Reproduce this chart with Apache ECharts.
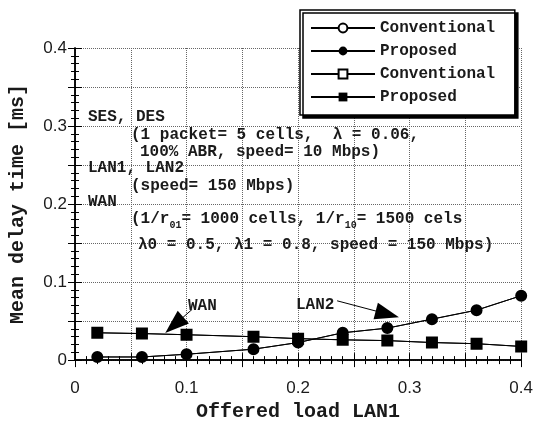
<!DOCTYPE html>
<html>
<head>
<meta charset="utf-8">
<script src="https://cdn.jsdelivr.net/npm/echarts@6/dist/echarts.min.js"></script>
<style>
  html, body { margin: 0; padding: 0; background: #fff; }
  #chart { width: 536px; height: 427px; }
</style>
</head>
<body>
<div id="chart"></div>
<script>
// offered load LAN1
let loads = [0.02, 0.06, 0.1, 0.16, 0.2, 0.24, 0.28, 0.32, 0.36, 0.4]
// LAN2 delay (circles)
let lan2Conventional = [0.004, 0.004, 0.0075, 0.014, 0.0225, 0.035, 0.041, 0.0525, 0.064, 0.0825]
let lan2Proposed = [0.004, 0.004, 0.0075, 0.014, 0.0225, 0.035, 0.041, 0.0525, 0.064, 0.0825]
// WAN delay (squares)
let wanConventional = [0.035, 0.034, 0.0325, 0.03, 0.0275, 0.026, 0.025, 0.0225, 0.021, 0.0175]
let wanProposed = [0.035, 0.034, 0.0325, 0.03, 0.0275, 0.026, 0.025, 0.0225, 0.021, 0.0175]

let xTicks = ['0', '0.1', '0.2', '0.3', '0.4']
let yTicks = ['0', '0.1', '0.2', '0.3', '0.4']

var myChart = echarts.init(document.getElementById('chart'));

const mono = 'Liberation Mono'
const sans = 'Liberation Sans'

function pairs(xs, ys) {
  return xs.map((x, i) => [x, ys[i]])
}

function tickLabel(list) {
  return v => {
    let k = Math.round(v * 100)
    return k % 10 === 0 ? list[k / 10] : ''
  }
}

// annotation text block [x, y, text]
let notes = [
  [88, 117, 'SES, DES'],
  [131, 135, '(1 packet= 5 cells,  λ = 0.06,'],
  [140, 152, '100% ABR, speed= 10 Mbps)'],
  [88, 168, 'LAN1, LAN2'],
  [131, 186, '(speed= 150 Mbps)'],
  [88, 202, 'WAN'],
  [131, 219, '(1/r{s|01}= 1000 cells, 1/r{s|10}= 1500 cels'],
  [138, 245, 'λ0 = 0.5, λ1 = 0.8, speed = 150 Mbps)']
]

function noteGraphics() {
  return notes.map(n => ({
    type: 'text',
    x: n[0],
    y: n[1],
    z: 10,
    style: {
      text: n[2],
      fill: '#1a1a1a',
      font: 'bold 16px ' + mono,
      verticalAlign: 'middle',
      rich: {
        s: { fontSize: 10, fontFamily: mono, fontWeight: 'bold', padding: [12, 0, 0, 0] }
      }
    }
  }))
}

function arrowLine(from, to) {
  return [{ coord: from, symbol: 'none' }, { coord: to, symbol: 'triangle' }]
}

function baseSeries(name, symbol, data) {
  return {
    name: name,
    type: 'line',
    data: data,
    symbol: symbol,
    symbolSize: 10,
    showSymbol: true,
    color: '#000',
    lineStyle: { color: '#000', width: 1 },
    emphasis: { disabled: true },
    animation: false,
    z: 3
  }
}

let s4 = baseSeries('Proposed ', 'rect', pairs(loads, wanProposed))
s4.markLine = {
  silent: true,
  animation: false,
  symbolSize: [17, 24],
  lineStyle: { color: '#000', width: 1, type: 'solid' },
  label: { show: false },
  data: [
    arrowLine([0.105, 0.065], [0.089, 0.045]),
    arrowLine([0.235, 0.076], [0.28, 0.059])
  ]
}

let option = {
  animation: false,
  grid: { left: 75, right: 13, top: 48, bottom: 59 },
  legend: {
    orient: 'vertical',
    left: 300,
    top: 10,
    padding: [10, 10, 10, 10],
    itemGap: 7,
    itemWidth: 64,
    itemHeight: 11,
    backgroundColor: '#fff',
    borderColor: '#000',
    borderWidth: 1.5,
    borderRadius: 0,
    shadowColor: '#000',
    shadowBlur: 0,
    shadowOffsetX: 3,
    shadowOffsetY: 3,
    z: 20,
    textStyle: { fontFamily: mono, fontWeight: 'bold', fontSize: 16, color: '#1a1a1a' },
    data: ['Conventional', 'Proposed', 'Conventional ', 'Proposed ']
  },
  xAxis: [{
    type: 'value',
    min: 0, max: 0.4, interval: 0.05,
    name: 'Offered load LAN1',
    nameLocation: 'middle',
    nameGap: 32,
    nameTextStyle: { fontFamily: mono, fontWeight: 'bold', fontSize: 20, color: '#1a1a1a' },
    axisLine: { show: true, lineStyle: { color: '#000', width: 1.5 } },
    axisTick: { show: true, inside: true, length: 7, lineStyle: { color: '#000' } },
    minorTick: { show: true, splitNumber: 5, length: 4, lineStyle: { color: '#000' } },
    axisLabel: { margin: 20, fontFamily: sans, fontSize: 17, color: '#1a1a1a', formatter: tickLabel(xTicks) },
    splitLine: { show: true, lineStyle: { type: 'dotted', color: '#666', width: 1 } }
  }, {
    type: 'value', position: 'top',
    min: 0, max: 0.4, interval: 0.05,
    axisLine: { show: true, lineStyle: { color: '#000', width: 1.5 } },
    axisTick: { show: true, inside: true, length: 7, lineStyle: { color: '#000' } },
    minorTick: { show: true, splitNumber: 5, length: 4, lineStyle: { color: '#000' } },
    axisLabel: { show: false },
    splitLine: { show: false }
  }],
  yAxis: [{
    type: 'value',
    min: 0, max: 0.4, interval: 0.05,
    name: 'Mean delay time [ms]',
    nameLocation: 'middle',
    nameGap: 47,
    nameTextStyle: { fontFamily: mono, fontWeight: 'bold', fontSize: 20, color: '#1a1a1a' },
    axisLine: { show: true, lineStyle: { color: '#000', width: 1.5 } },
    axisTick: { show: true, inside: true, length: 7, lineStyle: { color: '#000' } },
    minorTick: { show: true, splitNumber: 5, length: 4, lineStyle: { color: '#000' } },
    axisLabel: { margin: 8, fontFamily: sans, fontSize: 17, color: '#1a1a1a', formatter: tickLabel(yTicks) },
    splitLine: { show: true, lineStyle: { type: 'dotted', color: '#666', width: 1 } }
  }, {
    type: 'value', position: 'right',
    min: 0, max: 0.4, interval: 0.05,
    axisLine: { show: true, lineStyle: { color: '#000', width: 1.5 } },
    axisTick: { show: true, inside: true, length: 7, lineStyle: { color: '#000' } },
    minorTick: { show: true, splitNumber: 5, length: 4, lineStyle: { color: '#000' } },
    axisLabel: { show: false },
    splitLine: { show: false }
  }],
  graphic: noteGraphics().concat([
    { type: 'text', x: 188, y: 306, z: 10, style: { text: 'WAN', font: 'bold 16px ' + mono, fill: '#1a1a1a', verticalAlign: 'middle' } },
    { type: 'text', x: 296, y: 305, z: 10, style: { text: 'LAN2', font: 'bold 16px ' + mono, fill: '#1a1a1a', verticalAlign: 'middle' } }
  ]),
  series: [
    baseSeries('Conventional', 'emptyCircle', pairs(loads, lan2Conventional)),
    baseSeries('Conventional ', 'emptyRect', pairs(loads, wanConventional)),
    baseSeries('Proposed', 'circle', pairs(loads, lan2Proposed)),
    s4
  ]
}

myChart.setOption(option);
</script>
</body>
</html>
